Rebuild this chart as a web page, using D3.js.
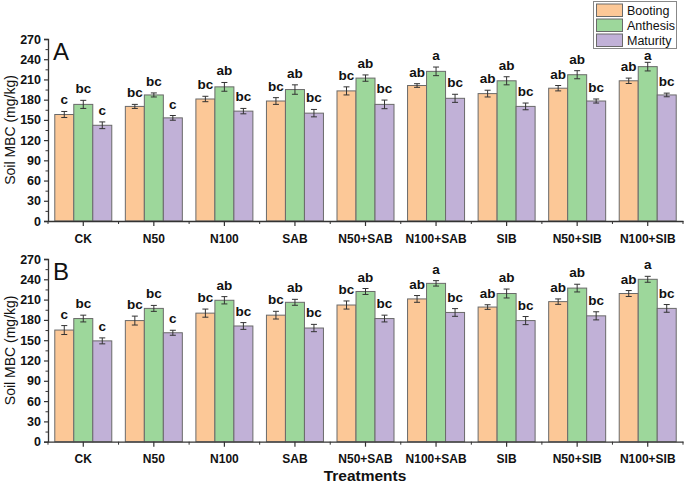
<!DOCTYPE html>
<html><head><meta charset="utf-8">
<script src="https://cdn.jsdelivr.net/npm/d3@7"></script>
<style>body{margin:0;background:#fff}svg{display:block;font-family:"Liberation Sans",Arial,sans-serif}</style>
</head><body>
<script>
const categories = ["CK","N50","N100","SAB","N50+SAB","N100+SAB","SIB","N50+SIB","N100+SIB"];
const series = ["Booting","Anthesis","Maturity"];
const colors = ["#FCC897","#9DD79B","#C1B1D7"];
const yTicks = [0,30,60,90,120,150,180,210,240,270];

// Panel A
const A_booting  = [158,170,181,178,193,201,189,197,208];
const A_anthesis = [173,187,199,195,212,222,208,217,229];
const A_maturity = [142,153,163,160,173,182,170,178,187];
const A_booting_err  = [4.5,3,4,5,6,2.7,5,4,4];
const A_anthesis_err = [6,3,6.5,7,4.7,6.4,6,6,6.4];
const A_maturity_err = [5,3.5,4,5.5,6.4,6,5,3,2.7];
const A_booting_sig  = ["c","bc","bc","bc","bc","ab","ab","ab","ab"];
const A_anthesis_sig = ["bc","bc","ab","ab","ab","a","ab","ab","a"];
const A_maturity_sig = ["c","c","bc","bc","bc","bc","bc","bc","bc"];

// Panel B
const B_booting  = [165,179,190,187,202,211,199,207,219];
const B_anthesis = [182,197,209,206,222,234,219,227,240];
const B_maturity = [149,161,171,168,182,191,179,186,197];
const B_booting_err  = [6.6,6.6,6,5.7,6,5,3.4,4,4.4];
const B_anthesis_err = [5,4.4,5.4,4.4,4.4,4,6.6,5.7,4.4];
const B_maturity_err = [4.4,3.7,5,5.4,5,5.7,6,6,5.7];
const B_booting_sig  = ["c","bc","bc","bc","bc","ab","ab","ab","ab"];
const B_anthesis_sig = ["bc","bc","ab","ab","ab","a","ab","ab","a"];
const B_maturity_sig = ["c","c","bc","bc","bc","bc","bc","bc","bc"];

const W = 685, H = 483;
const svg = d3.select("body").append("svg").attr("width",W).attr("height",H);

const legendBox = {x:593.5, y:1.5, w:83, h:47};

const x = d3.scaleBand().domain(categories).range([48,683]).padding(0);
const step = x.step();
const groupW = 57;
const xs = d3.scaleBand().domain(series).range([(step-groupW)/2,(step+groupW)/2]).padding(0);

function panel(label, y0, y1, vals, errs, sigs){
  const y = d3.scaleLinear().domain([0,270]).range([y0,y1]);
  const g = svg.append("g");
  categories.forEach((c,i)=>{
    series.forEach((s,j)=>{
      const v = vals[j][i], e = errs[j][i];
      const bx = x(c)+xs(s), bw = xs.bandwidth();
      g.append("rect").attr("x",bx).attr("y",y(v)).attr("width",bw).attr("height",y(0)-y(v))
        .attr("fill",colors[j]).attr("stroke","#6a6a6a").attr("stroke-width",1);
      const cx = bx+bw/2;
      g.append("line").attr("x1",cx).attr("x2",cx).attr("y1",y(v-e)).attr("y2",y(v+e)).attr("stroke","#333").attr("stroke-width",1);
      [v-e,v+e].forEach(t=>g.append("line").attr("x1",cx-3).attr("x2",cx+3).attr("y1",y(t)).attr("y2",y(t)).attr("stroke","#333").attr("stroke-width",1));
      let ty = y(v+e)-7;
      // keep letters clear of the legend box
      if (cx > legendBox.x && cx < legendBox.x+legendBox.w && ty - 10 < legendBox.y+legendBox.h)
        ty = legendBox.y+legendBox.h+11;
      g.append("text").attr("x",cx).attr("y",ty).attr("text-anchor","middle")
        .attr("font-size",13.5).attr("font-weight","bold").attr("fill","#111").text(sigs[j][i]);
    });
  });
  const ya = g.append("g").attr("transform","translate(48,0)")
    .call(d3.axisLeft(y).tickValues(yTicks).tickSize(4).tickPadding(3));
  ya.select(".domain").attr("stroke","#333").attr("stroke-width",1.3);
  ya.selectAll(".tick line").attr("stroke","#333").attr("stroke-width",1.2);
  ya.selectAll("text").attr("font-size",12.5).attr("font-weight","bold").attr("fill","#111")
    .attr("font-family","Liberation Sans, Arial, sans-serif");
  const yminor = g.append("g").attr("transform","translate(48,0)")
    .call(d3.axisLeft(y).tickValues(d3.range(15,270,30)).tickSize(2.5).tickFormat(""));
  yminor.select(".domain").remove();
  yminor.selectAll("line").attr("stroke","#333");
  const xa = g.append("g").attr("transform",`translate(0,${y0})`)
    .call(d3.axisBottom(x).tickSize(5).tickPadding(8).tickSizeOuter(0));
  xa.select(".domain").attr("stroke","#333").attr("stroke-width",1.3);
  xa.selectAll(".tick line").attr("stroke","#333").attr("stroke-width",1.2);
  xa.selectAll("text").attr("font-size",12).attr("font-weight","bold").attr("fill","#111")
    .attr("font-family","Liberation Sans, Arial, sans-serif");
  const bounds = categories.map(c=>x(c)).concat([x.range()[1]]);
  g.selectAll(null).data(bounds).enter().append("line")
    .attr("x1",d=>d).attr("x2",d=>d).attr("y1",y0).attr("y2",y0+3).attr("stroke","#333");
  g.append("text").attr("transform",`translate(15,${(y0+y1)/2}) rotate(-90)`).attr("text-anchor","middle")
    .attr("font-size",14).attr("fill","#111").text("Soil MBC (mg/kg)");
  g.append("text").attr("x",53).attr("y",y1+21).attr("font-size",24).attr("fill","#111").text(label);
}

panel("A",221,39,[A_booting,A_anthesis,A_maturity],[A_booting_err,A_anthesis_err,A_maturity_err],[A_booting_sig,A_anthesis_sig,A_maturity_sig]);
panel("B",441.7,259,[B_booting,B_anthesis,B_maturity],[B_booting_err,B_anthesis_err,B_maturity_err],[B_booting_sig,B_anthesis_sig,B_maturity_sig]);

svg.append("text").attr("x",365).attr("y",481).attr("text-anchor","middle").attr("font-size",15.5)
  .attr("font-weight","bold").attr("fill","#111").text("Treatments");

const lg = svg.append("g");
lg.append("rect").attr("x",legendBox.x).attr("y",legendBox.y).attr("width",legendBox.w).attr("height",legendBox.h)
  .attr("fill","#fff").attr("stroke","#888").attr("stroke-width",1);
series.forEach((s,j)=>{
  lg.append("rect").attr("x",596.5).attr("y",4+j*15).attr("width",26).attr("height",12.5)
    .attr("fill",colors[j]).attr("stroke","#6a6a6a");
  lg.append("text").attr("x",627).attr("y",15+j*15).attr("font-size",12.5).attr("fill","#111").text(s);
});
</script>
</body></html>
